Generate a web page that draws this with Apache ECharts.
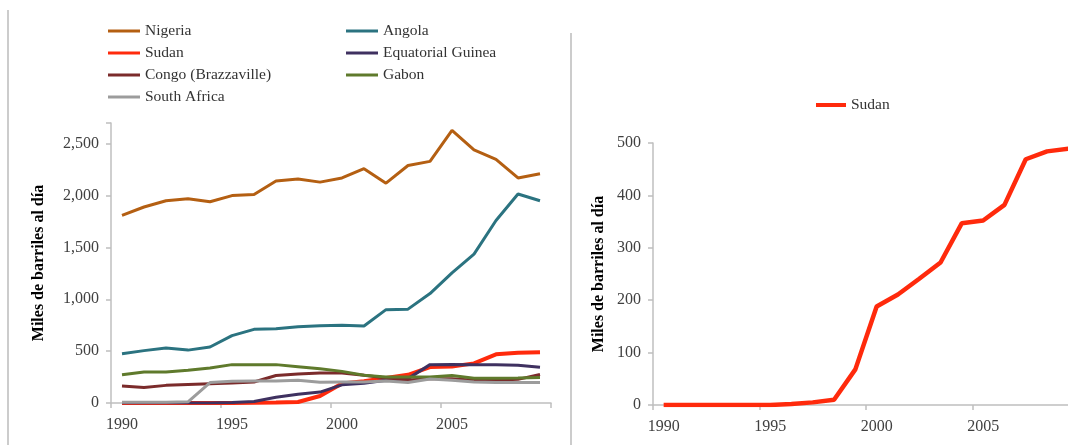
<!DOCTYPE html>
<html>
<head>
<meta charset="utf-8">
<style>
  html, body { margin: 0; padding: 0; background: #fff; }
  #chart { width: 1068px; height: 445px; }
</style>
<script src="https://cdn.jsdelivr.net/npm/echarts@6/dist/echarts.min.js"></script>
</head>
<body>
<div id="chart"></div>
<script>
const years = ["1990", "1991", "1992", "1993", "1994", "1995", "1996", "1997", "1998", "1999",
  "2000", "2001", "2002", "2003", "2004", "2005", "2006", "2007", "2008", "2009"];

// miles de barriles al dia
const nigeria = [1810, 1890, 1950, 1970, 1940, 2000, 2010, 2140, 2160, 2130, 2170, 2260, 2120, 2290, 2330, 2630, 2440, 2350, 2170, 2210];
const angola = [475, 505, 530, 510, 540, 650, 710, 715, 735, 745, 750, 742, 900, 905, 1055, 1255, 1435, 1760, 2015, 1950];
const sudan = [0, 0, 0, 0, 0, 0, 2, 5, 10, 68, 188, 211, 241, 272, 347, 352, 382, 469, 484, 489];
const eqGuinea = [0, 0, 0, 0, 0, 5, 15, 55, 85, 105, 175, 190, 220, 235, 370, 372, 368, 368, 365, 345];
const congo = [165, 150, 170, 178, 185, 192, 203, 265, 280, 290, 290, 267, 240, 222, 235, 235, 220, 220, 228, 275];
const gabon = [272, 298, 300, 315, 338, 370, 370, 370, 350, 330, 305, 267, 251, 251, 251, 265, 238, 238, 240, 245];
const southAfrica = [8, 8, 8, 12, 197, 209, 212, 212, 219, 200, 203, 203, 212, 197, 232, 219, 203, 197, 197, 197];

const leftTicks = [0, 500, 1000, 1500, 2000, 2500];
const rightTicks = [0, 100, 200, 300, 400, 500];

(() => {
  const font = "'Liberation Serif', serif";
  const axisGray = "#bfbfbf";
  const labelColor = "#404040";

  const colors = {
    Nigeria: "#b45f12",
    Angola: "#2b7380",
    Sudan: "#ff2a0c",
    "Equatorial Guinea": "#3f3160",
    "Congo (Brazzaville)": "#7b2b2b",
    Gabon: "#5f7a2c",
    "South Africa": "#9c9c9c"
  };

  const leftSeries = [
    ["Nigeria", nigeria, 3],
    ["Angola", angola, 3],
    ["Sudan", sudan, 4],
    ["Equatorial Guinea", eqGuinea, 3],
    ["Congo (Brazzaville)", congo, 3],
    ["Gabon", gabon, 3],
    ["South Africa", southAfrica, 3]
  ];

  function lineSeries(name, data, width, axisIndex) {
    return {
      name: name,
      type: "line",
      data: data,
      xAxisIndex: axisIndex,
      yAxisIndex: axisIndex,
      symbol: "none",
      smooth: false,
      color: colors[name],
      lineStyle: { color: colors[name], width: width }
    };
  }

  function xAxis(gridIndex) {
    return {
      type: "category",
      gridIndex: gridIndex,
      data: years,
      boundaryGap: true,
      axisLine: { lineStyle: { color: axisGray, width: 1.5 } },
      axisTick: { show: true, interval: 4, length: 5, lineStyle: { color: axisGray, width: 1.5 } },
      axisLabel: { interval: 4, color: labelColor, fontFamily: font, fontSize: 16, margin: 14 }
    };
  }

  function yAxis(gridIndex, max, interval, ticks) {
    return {
      type: "value",
      gridIndex: gridIndex,
      min: 0,
      max: max,
      interval: interval,
      name: "Miles de barriles al día",
      nameLocation: "middle",
      nameRotate: 90,
      nameGap: gridIndex === 0 ? 64 : 46,
      nameTextStyle: { color: "#000", fontFamily: font, fontSize: 16, fontWeight: "bold" },
      splitLine: { show: false },
      axisLine: { show: true, lineStyle: { color: axisGray, width: 1.5 } },
      axisTick: { show: true, length: 5, lineStyle: { color: axisGray, width: 1.5 } },
      axisLabel: {
        color: labelColor,
        fontFamily: font,
        fontSize: 16,
        margin: 12,
        formatter: (v) => (ticks.includes(v) ? v.toLocaleString("en-US") : "")
      }
    };
  }

  const legendText = { color: "#333", fontFamily: font, fontSize: 15.5, lineHeight: 18 };

  function legend(names, left, top) {
    return {
      data: names,
      orient: "vertical",
      left: left,
      top: top,
      icon: "rect",
      itemWidth: 32,
      itemHeight: 3,
      itemGap: 4,
      padding: 0,
      textStyle: legendText
    };
  }

  const option = {
    animation: false,
    backgroundColor: "#fff",
    grid: [
      { left: 111, top: 123, right: 517, bottom: 42, outerBoundsMode: "none" },
      // the right panel runs past the edge of the picture
      { left: 653, top: 143, width: 426, bottom: 40, outerBoundsMode: "none" }
    ],
    legend: [
      legend(["Nigeria", "Sudan", "Congo (Brazzaville)", "South Africa"], 108, 22),
      legend(["Angola", "Equatorial Guinea", "Gabon"], 346, 22),
      {
        data: ["Sudan"],
        left: 816,
        top: 96,
        icon: "rect",
        itemWidth: 30,
        itemHeight: 4,
        padding: 0,
        textStyle: legendText
      }
    ],
    xAxis: [xAxis(0), xAxis(1)],
    yAxis: [yAxis(0, 2700, 500, leftTicks), yAxis(1, 500, 100, rightTicks)],
    series: leftSeries.map(([name, data, width]) => lineSeries(name, data, width, 0))
      .concat([Object.assign(lineSeries("Sudan", sudan, 4.5, 1), { id: "sudanRight" })]),
    graphic: [
      { type: "line", shape: { x1: 8, y1: 10, x2: 8, y2: 445 }, style: { stroke: "#cccccc", lineWidth: 2 } },
      { type: "line", shape: { x1: 571, y1: 33, x2: 571, y2: 445 }, style: { stroke: "#cccccc", lineWidth: 2 } }
    ]
  };

  const chart = echarts.init(document.getElementById("chart"), null, { renderer: "canvas" });
  chart.setOption(option);
})();
</script>
</body>
</html>
